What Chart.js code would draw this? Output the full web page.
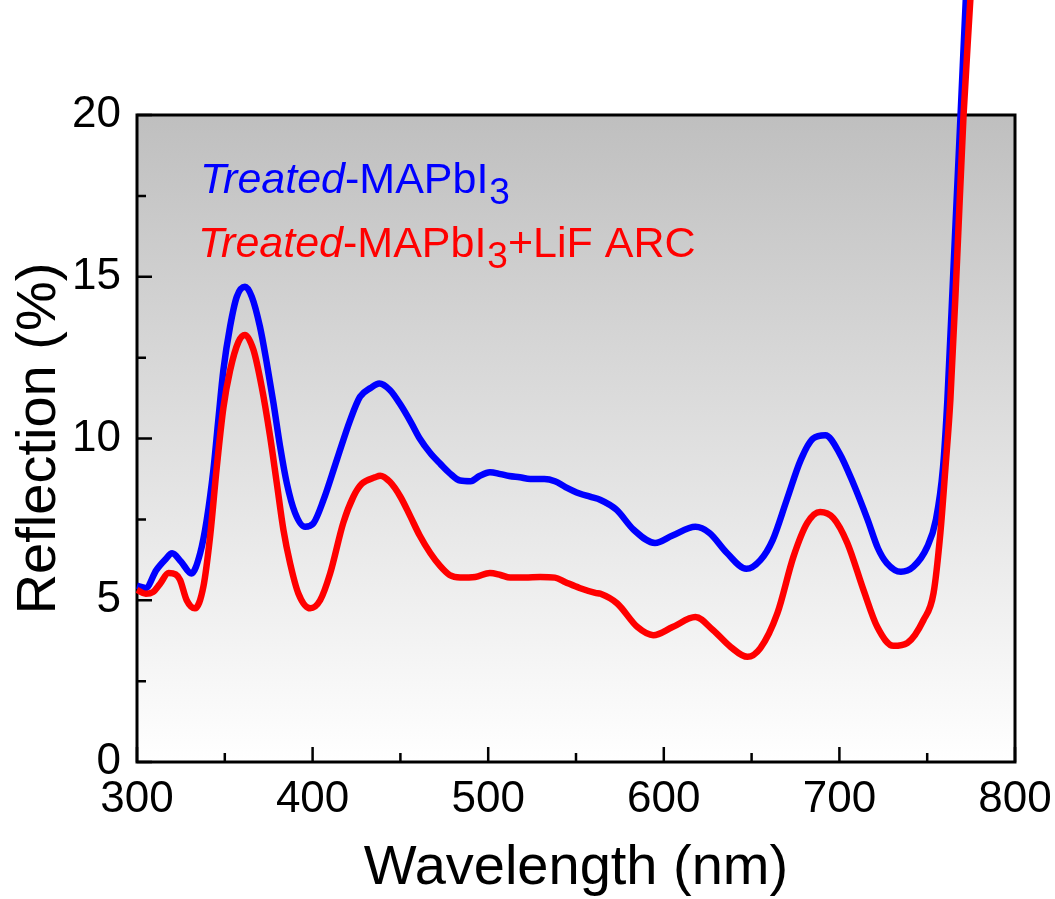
<!DOCTYPE html>
<html>
<head>
<meta charset="utf-8">
<script src="https://cdn.jsdelivr.net/npm/chart.js@4/dist/chart.umd.min.js"></script>
<style>
  html, body { margin: 0; padding: 0; background: #ffffff; }
  #wrap { width: 1055px; height: 899px; position: relative; }
</style>
</head>
<body>
<div id="wrap"><canvas id="c" width="1055" height="899"></canvas></div>
<script>
// ---- data ----
const wlBlue = [300,305,311,316,320,325,331,336,339.7,343.5,346.3,349.2,353,356.8,361.5,365.4,370,373.9,377.7,381.5,385.3,390,395.7,400.5,406.2,413.8,421.4,427,433,438,444,450,456,461,467,473,478,484,490,495,501,507,512,518,524,532,538,544,552,558,564,573,583,595,605,618,626,636,647,655,662,670,678,685,692,700,708,716,722,727,735,742,750,755,759,761.5,765,769,772,775];
const reflBlue = [5.45,5.38,5.93,6.25,6.45,6.2,5.83,6.46,7.48,9.03,10.57,12.12,13.46,14.38,14.69,14.38,13.46,12.33,11.1,9.75,8.62,7.7,7.27,7.38,8.1,9.34,10.57,11.29,11.56,11.7,11.5,11.05,10.5,10.0,9.55,9.2,8.93,8.7,8.68,8.84,8.96,8.9,8.84,8.8,8.75,8.75,8.68,8.5,8.3,8.2,8.1,7.8,7.17,6.77,7.0,7.27,7.08,6.46,5.97,6.24,6.86,8.1,9.34,10.0,10.1,9.55,8.6,7.5,6.6,6.15,5.88,6.03,6.65,7.5,9.1,11.2,15.3,20,23.6,27];

const wlRed = [300,305,309,313,318,322,324.5,328.3,333,337.8,341.6,345.4,349.2,353,357.7,361.5,366.3,371,375.8,379.6,383.4,387.2,391.9,398.6,404.3,410,417.5,423.2,428,435.6,438.5,444,450,455.6,461,467,472.6,478,484,492.6,501,507,512.5,521,529.6,538,544,552,561,564,573.5,585,594,605,618,628,638,647.6,655,664.7,673.8,681.7,689,696.6,704.5,713.7,721.6,730.8,738.7,747.9,753.6,757.5,760.4,763.2,767,770.7,774.6,777];
const reflRed = [5.32,5.2,5.25,5.5,5.84,5.8,5.63,5.0,4.75,5.42,6.96,9.1,10.95,12.1,12.98,13.2,12.74,11.6,10.06,8.62,7.17,6.14,5.21,4.75,5.0,5.83,7.4,8.2,8.6,8.8,8.85,8.66,8.2,7.6,7.0,6.46,6.06,5.78,5.7,5.72,5.84,5.78,5.7,5.7,5.72,5.7,5.56,5.38,5.23,5.2,4.9,4.17,3.92,4.17,4.48,4.08,3.56,3.25,3.52,4.6,6.34,7.39,7.73,7.54,6.77,5.32,4.17,3.59,3.68,4.39,5.22,7.08,9.1,11.2,15.5,20,23.6,26];

const xTicksMajor = [300,400,500,600,700,800];
const xTicksMinor = [350,450,550,650,750];
const yTicksMajor = [0,5,10,15,20];
const yTicksMinor = [2.5,7.5,12.5,17.5];

const labelBlue = ['Treated', '-MAPbI', '3', ''];
const labelRed  = ['Treated', '-MAPbI', '3', '+LiF ARC'];

const FONT = '"Liberation Sans", Arial, Helvetica, sans-serif';

function pts(xs, ys) { return xs.map((x, i) => ({ x: x, y: ys[i] })); }

const bgPlugin = {
  id: 'bg',
  beforeDraw(chart) {
    const { ctx, chartArea: a } = chart;
    const g = ctx.createLinearGradient(0, a.top, 0, a.bottom);
    g.addColorStop(0, '#bfbfbf');
    g.addColorStop(1, '#ffffff');
    ctx.save();
    ctx.fillStyle = g;
    ctx.fillRect(a.left, a.top, a.right - a.left, a.bottom - a.top);
    ctx.restore();
  },
  beforeDatasetsDraw(chart) {
    const { ctx, chartArea: a, scales } = chart;
    const xs = scales.x, ys = scales.y;
    ctx.save();
    ctx.strokeStyle = '#000';
    ctx.lineCap = 'butt';
    ctx.lineWidth = 2.5;
    ctx.beginPath();
    xTicksMajor.forEach(v => { const p = xs.getPixelForValue(v); ctx.moveTo(p, a.bottom); ctx.lineTo(p, a.bottom - 15); });
    xTicksMinor.forEach(v => { const p = xs.getPixelForValue(v); ctx.moveTo(p, a.bottom); ctx.lineTo(p, a.bottom - 9); });
    yTicksMajor.forEach(v => { const p = ys.getPixelForValue(v); ctx.moveTo(a.left, p); ctx.lineTo(a.left + 15, p); });
    yTicksMinor.forEach(v => { const p = ys.getPixelForValue(v); ctx.moveTo(a.left, p); ctx.lineTo(a.left + 9, p); });
    ctx.stroke();
    ctx.lineWidth = 3;
    ctx.strokeRect(a.left, a.top, a.right - a.left, a.bottom - a.top);
    ctx.restore();
  },
  afterDatasetsDraw(chart) {
    const { ctx } = chart;
    function drawLabel(parts, color, x, y) {
      ctx.save();
      ctx.fillStyle = color;
      ctx.textBaseline = 'alphabetic';
      ctx.textAlign = 'left';
      let cx = x;
      ctx.font = 'italic 43px ' + FONT;
      ctx.fillText(parts[0], cx, y); cx += ctx.measureText(parts[0]).width;
      ctx.font = '43px ' + FONT;
      ctx.fillText(parts[1], cx, y); cx += ctx.measureText(parts[1]).width;
      ctx.font = '37px ' + FONT;
      ctx.fillText(parts[2], cx + 1, y + 11); cx += ctx.measureText(parts[2]).width + 1;
      ctx.font = '43px ' + FONT;
      if (parts[3]) ctx.fillText(parts[3], cx, y);
      ctx.restore();
    }
    drawLabel(labelBlue, '#0000ff', 200, 193);
    drawLabel(labelRed, '#ff0000', 198, 257);
  }
};

new Chart(document.getElementById('c'), {
  type: 'line',
  data: {
    datasets: [
      { label: 'Treated-MAPbI3+LiF ARC', data: pts(wlRed, reflRed), borderColor: '#ff0000', borderWidth: 6.5, pointRadius: 0, cubicInterpolationMode: 'monotone', clip: false, fill: false },
      { label: 'Treated-MAPbI3', data: pts(wlBlue, reflBlue), borderColor: '#0000ff', borderWidth: 6.5, pointRadius: 0, cubicInterpolationMode: 'monotone', clip: false, fill: false }
    ]
  },
  options: {
    responsive: false,
    animation: false,
    layout: { padding: { left: 0, right: 40, top: 115, bottom: 0 } },
    plugins: { legend: { display: false }, tooltip: { enabled: false } },
    scales: {
      x: {
        type: 'linear', min: 300, max: 800,
        afterFit(s) { s.height = 137; s.paddingLeft = 0; s.paddingRight = 0; },
        afterBuildTicks(s) { s.ticks = xTicksMajor.map(v => ({ value: v })); },
        grid: { display: false, drawTicks: false },
        border: { display: false },
        ticks: { color: '#000', font: { family: FONT, size: 44 }, padding: 11, maxRotation: 0, autoSkip: false },
        title: { display: true, text: 'Wavelength (nm)', color: '#000', font: { family: FONT, size: 56, lineHeight: 1.1 }, padding: { top: 0, bottom: 0 } }
      },
      y: {
        type: 'linear', min: 0, max: 20,
        afterFit(s) { s.width = 137; s.paddingTop = 0; s.paddingBottom = 0; },
        afterBuildTicks(s) { s.ticks = yTicksMajor.map(v => ({ value: v })); },
        grid: { display: false, drawTicks: false },
        border: { display: false },
        ticks: { color: '#000', font: { family: FONT, size: 44 }, padding: 16 },
        title: { display: true, text: 'Reflection (%)', color: '#000', font: { family: FONT, size: 56, lineHeight: 1.1 }, padding: { top: 9, bottom: 0 } }
      }
    }
  },
  plugins: [bgPlugin]
});
</script>
</body>
</html>
